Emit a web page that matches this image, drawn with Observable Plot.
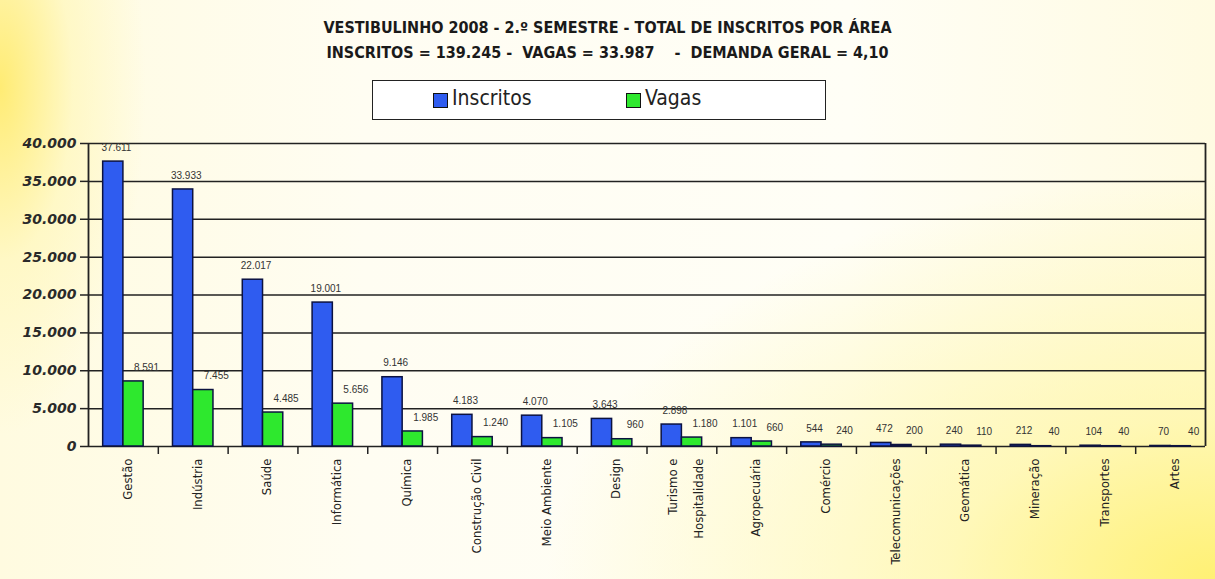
<!DOCTYPE html>
<html>
<head>
<meta charset="utf-8">
<script src="https://cdn.jsdelivr.net/npm/d3@7"></script>
<script src="https://cdn.jsdelivr.net/npm/@observablehq/plot@0.6"></script>
<style>
  html, body { margin:0; padding:0; }
  body {
    width:1215px; height:579px; overflow:hidden; position:relative;
    background:
      radial-gradient(ellipse 55% 70% at 100% 100%, rgba(255,240,110,0.95) 0%, rgba(255,245,150,0.6) 40%, rgba(255,255,255,0) 100%),
      radial-gradient(ellipse 12% 60% at 0% 15%, rgba(255,235,110,0.95) 0%, rgba(255,245,170,0.5) 50%, rgba(255,255,255,0) 100%),
      linear-gradient(to right, #fffbe0 0%, #fffdf2 30%, #fffef6 70%, #fffbe2 100%);
    font-family: "DejaVu Sans Condensed", sans-serif;
  }
  .title { position:absolute; left:0; width:1215px; text-align:center; font-weight:bold; font-size:16px; color:#1a1a1a; white-space:pre; }
  #legend { position:absolute; left:372px; top:80px; width:452px; height:38px; background:#fff; border:1.5px solid #222; }
  .sw { position:absolute; top:12px; width:13px; height:13px; border:1px solid #111; }
  .lt { position:absolute; top:5px; font-size:21px; color:#222; }
  #chart { position:absolute; left:0; top:130px; }
  #chart g[aria-label="y-axis tick label"] text { font-family:"DejaVu Sans", sans-serif; font-weight:bold; font-style:italic; font-size:14px; fill:#2a2a2a; }
</style>
</head>
<body>
<div class="title" id="t1" style="top:18px"></div>
<div class="title" id="t2" style="top:43px"></div>
<div id="legend"></div>
<div id="chart"></div>
<script>
const titleLine1 = "VESTIBULINHO 2008 - 2.º SEMESTRE - TOTAL DE INSCRITOS POR ÁREA";
const titleLine2 = "INSCRITOS = 139.245 -  VAGAS = 33.987    -  DEMANDA GERAL = 4,10";
const categories = ["Gestão","Indústria","Saúde","Informática","Química","Construção Civil","Meio Ambiente","Design","Turismo e\nHospitalidade","Agropecuária","Comércio","Telecomunicações","Geomática","Mineração","Transportes","Artes"];
const inscritos = [37611,33933,22017,19001,9146,4183,4070,3643,2898,1101,544,472,240,212,104,70];
const vagas = [8591,7455,4485,5656,1985,1240,1105,960,1180,660,240,200,110,40,40,40];
const seriesNames = ["Inscritos","Vagas"];
const seriesColors = ["#2f5cf0","#2ee82e"];
const yTicks = [0,5000,10000,15000,20000,25000,30000,35000,40000];

document.getElementById("t1").textContent = titleLine1;
document.getElementById("t2").textContent = titleLine2;
const legend = document.getElementById("legend");
const swX = [60, 253];
seriesNames.forEach((n, k) => {
  const s = document.createElement("div"); s.className = "sw";
  s.style.left = swX[k] + "px"; s.style.background = seriesColors[k];
  legend.appendChild(s);
  const t = document.createElement("div"); t.className = "lt";
  t.style.left = (swX[k] + 19) + "px"; t.textContent = n;
  legend.appendChild(t);
});

const rows = categories.map((c, i) => ({i, cat: c, inscritos: inscritos[i], vagas: vagas[i]}));
const fmt = v => d3.format(",")(v).replace(/,/g, ".");

const chart = Plot.plot({
  width: 1215, height: 449,
  marginTop: 13, marginBottom: 133, marginLeft: 88, marginRight: 10,
  x: {domain: [0, categories.length], axis: null},
  y: {domain: [0, 40000], axis: null},
  style: {background: "transparent", overflow: "visible"},
  marks: [
    Plot.ruleY(yTicks, {stroke: "#222", strokeWidth: 1.5}),
    Plot.ruleX([0, categories.length], {stroke: "#222", strokeWidth: 1.8}),
    Plot.axisY({ticks: yTicks, tickSize: 8, tickPadding: 4, tickFormat: fmt, stroke: "#222", strokeWidth: 1.5}),
    Plot.axisX({ticks: d3.range(1, categories.length), tickSize: 8, tickFormat: () => "", stroke: "#222", strokeWidth: 1.5}),
    Plot.rectY(rows, {x1: d => d.i + 0.21, x2: d => d.i + 0.5, y: "inscritos", fill: seriesColors[0], stroke: "#0c1240", strokeWidth: 1.5}),
    Plot.rectY(rows, {x1: d => d.i + 0.5, x2: d => d.i + 0.79, y: "vagas", fill: seriesColors[1], stroke: "#0c1240", strokeWidth: 1.5}),
    Plot.text(rows, {x: d => d.i + 0.4, y: "inscritos", text: d => fmt(d.inscritos), dy: -14, fontSize: 10, fill: "#333", fontFamily: "Liberation Sans, Arial, sans-serif"}),
    Plot.text(rows, {x: d => d.i + 0.83, y: "vagas", text: d => fmt(d.vagas), dy: -14, fontSize: 10, fill: "#333", fontFamily: "Liberation Sans, Arial, sans-serif"}),
    Plot.text(rows, {x: d => d.i + 0.5, y: 0, text: "cat", rotate: -90, textAnchor: "end", dy: 12, fontSize: 13, fill: "#222", fontFamily: "DejaVu Sans Condensed, sans-serif", lineHeight: 2})
  ]
});
document.getElementById("chart").appendChild(chart);
</script>
</body>
</html>
